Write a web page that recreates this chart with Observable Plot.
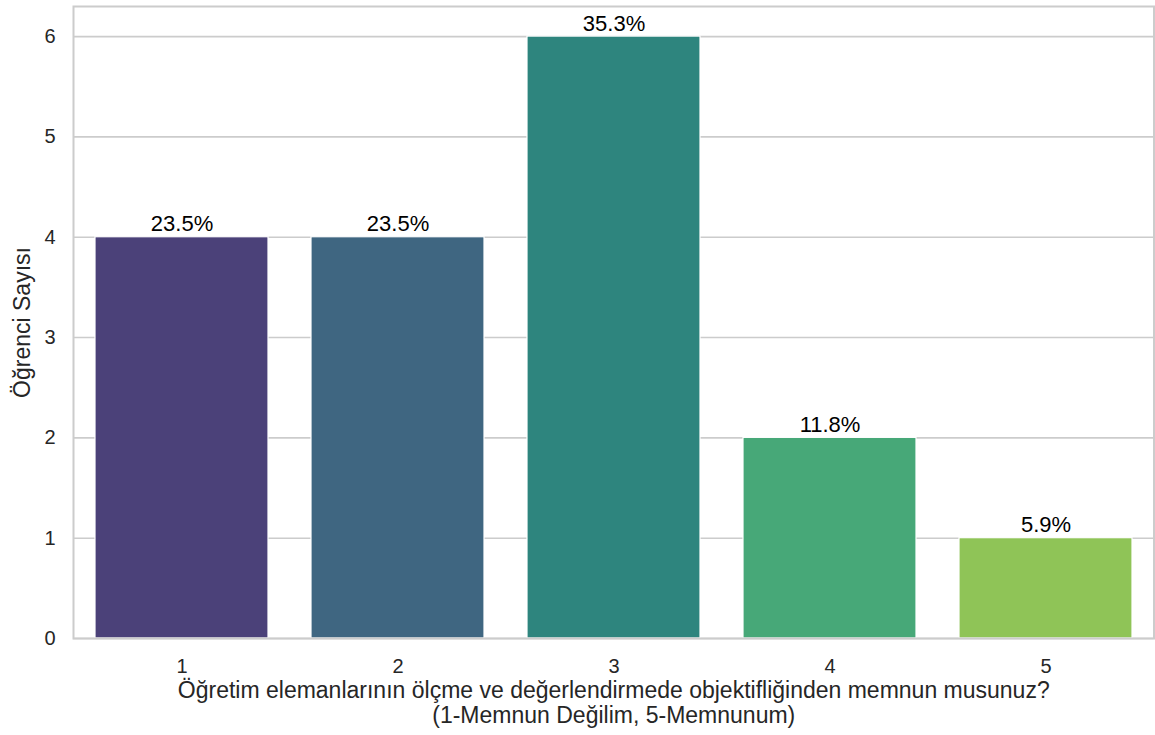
<!DOCTYPE html>
<html><head><meta charset="utf-8">
<script src="https://cdn.jsdelivr.net/npm/d3@7"></script>
<script src="https://cdn.jsdelivr.net/npm/@observablehq/plot@0.6"></script>
<style>body{margin:0;background:#fff;font-family:"Liberation Sans",Arial,sans-serif}</style>
</head><body><div id="chart"></div>
<script>
const categories = ["1","2","3","4","5"];
const counts = [4,4,6,2,1];
const percents = ["23.5%","23.5%","35.3%","11.8%","5.9%"];
const colors = ["#4b4179","#3f6681","#2e857e","#47a878","#8fc457"];
const yTicks = [0,1,2,3,4,5,6];
const xLabel = "Öğretim elemanlarının ölçme ve değerlendirmede objektifliğinden memnun musunuz?\n(1-Memnun Değilim, 5-Memnunum)";
const yLabel = "Öğrenci Sayısı";

const data = categories.map((c,i)=>({cat:c,count:counts[i],pct:percents[i],color:colors[i]}));

const chart = Plot.plot({
  width:1155, height:735,
  marginLeft:73, marginRight:1.5, marginTop:6, marginBottom:97,
  style:{fontFamily:'"Liberation Sans",Arial,sans-serif', background:"#fff"},
  x:{domain:categories, paddingInner:0.2, paddingOuter:0.1, axis:null},
  y:{domain:[0,6.3], axis:null},
  marks:[
    Plot.ruleY(yTicks,{stroke:"#cccccc",strokeWidth:1.6}),
    Plot.barY(data,{x:"cat",y:"count",fill:"color",stroke:"#fff",strokeWidth:1.2}),
    Plot.text(data,{x:"cat",y:"count",text:"pct",dy:-13,fontSize:22,fill:"#000"}),
    Plot.frame({stroke:"#cccccc",strokeWidth:2}),
    Plot.text(categories,{x:d=>d,text:d=>d,frameAnchor:"bottom",lineAnchor:"middle",dy:28,fontSize:20,fill:"#262626"}),
    Plot.text(yTicks,{y:d=>d,text:d=>String(d),frameAnchor:"left",textAnchor:"end",dx:-18,fontSize:20,fill:"#262626"}),
    Plot.text([xLabel],{frameAnchor:"bottom",lineAnchor:"middle",dy:64,fontSize:23,fill:"#262626",lineHeight:1.1}),
    Plot.text([yLabel],{frameAnchor:"left",textAnchor:"middle",dx:-51,rotate:-90,fontSize:23,fill:"#262626"})
  ]
});
document.getElementById("chart").appendChild(chart);
</script></body></html>
